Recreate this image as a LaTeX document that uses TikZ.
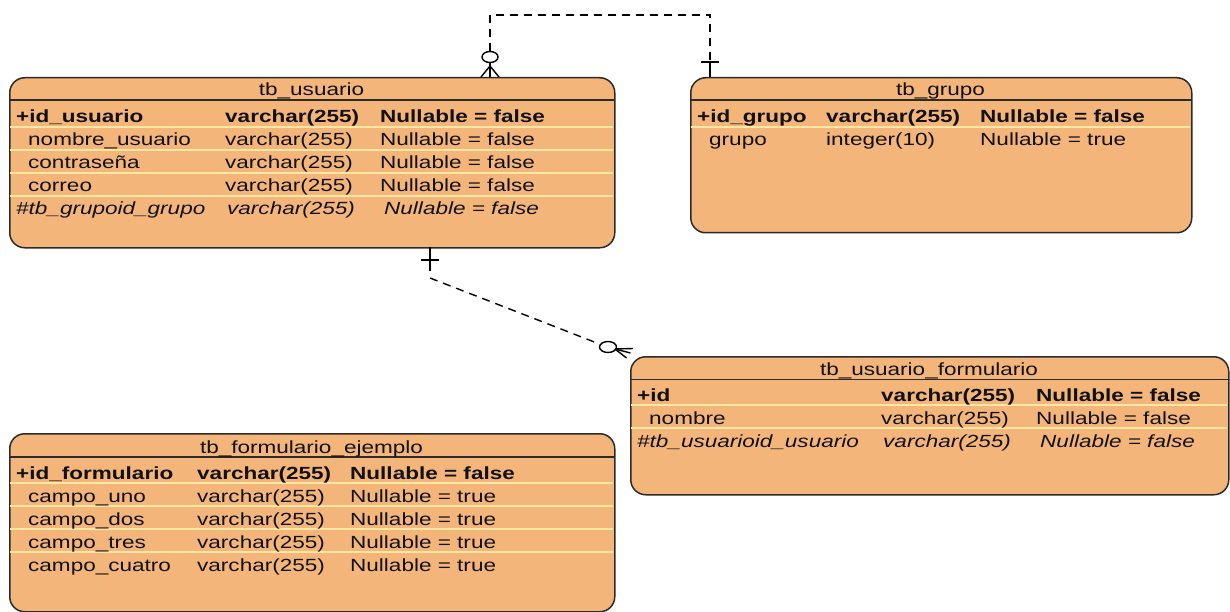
\documentclass[tikz,border=0pt]{standalone}
\usepackage{fontspec}
\newfontfamily\erfont{Liberation Sans}[FakeStretch=1.28]
\definecolor{tabfill}{HTML}{F4B57B}
\definecolor{bordercol}{HTML}{2B2B2B}
\definecolor{sepcol}{HTML}{FFE8A4}
\definecolor{txtcol}{HTML}{111111}
\begin{document}
\begin{tikzpicture}[x=1pt,y=-1pt,
  tbl/.style={draw=bordercol, line width=1.5pt, fill=tabfill, rounded corners=15pt, inner sep=0pt, anchor=north west},
  hdr/.style={draw=bordercol, line width=1.5pt},
  sepline/.style={draw=sepcol, line width=1.6pt},
  cell/.style={anchor=base west, inner sep=0pt, text=txtcol, font=\erfont\fontsize{17.6}{20}\selectfont},
  ttl/.style={anchor=base, inner sep=0pt, text=txtcol, font=\erfont\fontsize{17.6}{20}\selectfont},
  conn/.style={draw=black, line width=1.4pt},
  dconn/.style={conn, dash pattern=on 8pt off 6pt}
]
\useasboundingbox (0,0) rectangle (1230,612);

% ---------- tb_usuario ----------
\node[tbl, minimum width=605pt, minimum height=170pt] (usr) at (9,77) {};
\draw[hdr] (9,100) -- (614,100);
\foreach \yy in {127,150,173,196} \draw[sepline] (10,\yy) -- (613,\yy);
\node[ttl] (usrT) at (311.5,96) {tb\_usuario};
\node[cell] (u1a) at (16,122.5) {\bfseries +id\_usuario};
\node[cell] (u1b) at (225,122.5) {\bfseries varchar(255)};
\node[cell] (u1c) at (380,122.5) {\bfseries Nullable = false};
\node[cell] (u2a) at (28,145.5) {nombre\_usuario};
\node[cell] (u2b) at (225,145.5) {varchar(255)};
\node[cell] (u2c) at (380,145.5) {Nullable = false};
\node[cell] (u3a) at (28,168.5) {contraseña};
\node[cell] (u3b) at (225,168.5) {varchar(255)};
\node[cell] (u3c) at (380,168.5) {Nullable = false};
\node[cell] (u4a) at (28,191.5) {correo};
\node[cell] (u4b) at (225,191.5) {varchar(255)};
\node[cell] (u4c) at (380,191.5) {Nullable = false};
\node[cell] (u5a) at (16,214.5) {\itshape \#tb\_grupoid\_grupo};
\node[cell] (u5b) at (227,214.5) {\itshape varchar(255)};
\node[cell] (u5c) at (384,214.5) {\itshape Nullable = false};

% ---------- tb_grupo ----------
\node[tbl, minimum width=501pt, minimum height=155pt] (grp) at (690,77) {};
\draw[hdr] (690,100) -- (1191,100);
\draw[sepline] (691,127) -- (1190,127);
\node[ttl] (grpT) at (940.5,96) {tb\_grupo};
\node[cell] (g1a) at (697,122.5) {\bfseries +id\_grupo};
\node[cell] (g1b) at (826,122.5) {\bfseries varchar(255)};
\node[cell] (g1c) at (980,122.5) {\bfseries Nullable = false};
\node[cell] (g2a) at (709,145.5) {grupo};
\node[cell] (g2b) at (826,145.5) {integer(10)};
\node[cell] (g2c) at (980,145.5) {Nullable = true};

% ---------- tb_usuario_formulario ----------
\node[tbl, minimum width=598pt, minimum height=138pt] (uf) at (630,356) {};
\draw[hdr] (630,379.5) -- (1228,379.5);
\foreach \yy in {405,428} \draw[sepline] (631,\yy) -- (1227,\yy);
\node[ttl] (ufT) at (929,375.5) {tb\_usuario\_formulario};
\node[cell] (f1a) at (637,401) {\bfseries +id};
\node[cell] (f1b) at (881,401) {\bfseries varchar(255)};
\node[cell] (f1c) at (1036,401) {\bfseries Nullable = false};
\node[cell] (f2a) at (649,424) {nombre};
\node[cell] (f2b) at (881,424) {varchar(255)};
\node[cell] (f2c) at (1036,424) {Nullable = false};
\node[cell] (f3a) at (637,447) {\itshape \#tb\_usuarioid\_usuario};
\node[cell] (f3b) at (883,447) {\itshape varchar(255)};
\node[cell] (f3c) at (1040,447) {\itshape Nullable = false};

% ---------- tb_formulario_ejemplo ----------
\node[tbl, minimum width=605pt, minimum height=178pt] (fe) at (9,433) {};
\draw[hdr] (9,457) -- (614,457);
\foreach \yy in {483,506,529,552} \draw[sepline] (10,\yy) -- (613,\yy);
\node[ttl] (feT) at (311.5,453) {tb\_formulario\_ejemplo};
\node[cell] (e1a) at (16,479) {\bfseries +id\_formulario};
\node[cell] (e1b) at (197,479) {\bfseries varchar(255)};
\node[cell] (e1c) at (350,479) {\bfseries Nullable = false};
\node[cell] (e2a) at (28,502) {campo\_uno};
\node[cell] (e2b) at (197,502) {varchar(255)};
\node[cell] (e2c) at (350,502) {Nullable = true};
\node[cell] (e3a) at (28,525) {campo\_dos};
\node[cell] (e3b) at (197,525) {varchar(255)};
\node[cell] (e3c) at (350,525) {Nullable = true};
\node[cell] (e4a) at (28,548) {campo\_tres};
\node[cell] (e4b) at (197,548) {varchar(255)};
\node[cell] (e4c) at (350,548) {Nullable = true};
\node[cell] (e5a) at (28,571) {campo\_cuatro};
\node[cell] (e5b) at (197,571) {varchar(255)};
\node[cell] (e5c) at (350,571) {Nullable = true};

% ---------- connector tb_usuario (many, optional) -- tb_grupo (one) ----------
\coordinate (uTop) at (490,77);
\coordinate (uApex) at (490,66);
\coordinate (uCirc) at (490,57);
\coordinate (gTop) at (710,77);
\coordinate (gBar) at (710,62);
\draw[dconn] ([yshift=5.5pt]uCirc) -- (490,15) -- (710,15) -- (gBar);
\draw[conn] (gBar) -- (gTop);
\draw[conn] ([xshift=-9pt]gBar) -- ([xshift=9pt]gBar);
\draw[conn, fill=white] (uCirc) ellipse [x radius=8pt, y radius=5.5pt];
\draw[conn] ([yshift=-5.5pt]uCirc) -- (uTop);
\draw[conn] (uApex) -- ([xshift=-9pt]uTop);
\draw[conn] (uApex) -- ([xshift=9pt]uTop);

% ---------- connector tb_usuario (one) -- tb_usuario_formulario (many, optional) ----------
\coordinate (uBot) at (430,247);
\coordinate (uBar) at (430,260);
\coordinate (uBend) at (430,278);
\coordinate (fCirc) at (608,347);
\coordinate (fApex) at (615,349);
\draw[conn] (uBot) -- (430,271);
\draw[conn] ([xshift=-9pt]uBar) -- ([xshift=9pt]uBar);
\draw[dconn] (uBend) -- (599.5,344);
\draw[conn, fill=white] (fCirc) ellipse [x radius=8.5pt, y radius=5.5pt];
\draw[conn] (fApex) -- (633,348.5);
\draw[conn] (fApex) -- (630.5,353);
\draw[conn] (fApex) -- (626.5,358);
\end{tikzpicture}
\end{document}
